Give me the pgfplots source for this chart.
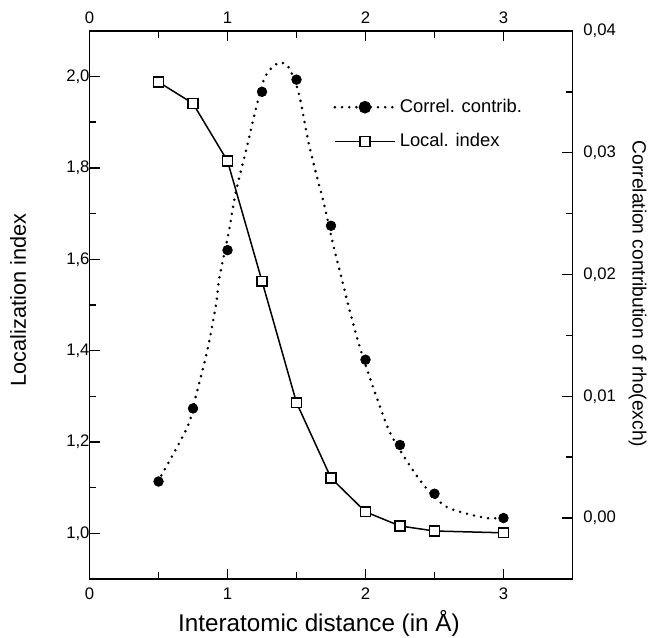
\documentclass[border=0pt]{standalone}
\usepackage{fontspec}
\setmainfont{Liberation Sans}
\usepackage{pgfplots}
\usepackage{pgfplotstable}
\pgfplotsset{compat=1.18}

% localization index (left axis)
\pgfplotstableread{
x     y
0.50  1.988
0.75  1.941
1.00  1.815
1.25  1.552
1.50  1.286
1.75  1.121
2.00  1.047
2.25  1.016
2.50  1.005
3.00  1.001
}\locidx

% correlation contribution, measured points (right axis)
\pgfplotstableread{
x     y
0.50  0.0030
0.75  0.0090
1.00  0.0220
1.25  0.0350
1.50  0.0360
1.75  0.0240
2.00  0.0130
2.25  0.0060
2.50  0.0020
3.00  0.0000
}\corrpts

% dotted fit curve
\pgfplotstableread{
x      y
0.52   0.0035
0.71   0.0075
0.77   0.0100
0.854  0.0138
0.919  0.0177
0.939  0.0196
1.011  0.0236
1.059  0.0267
1.143  0.0306
1.199  0.0333
1.264  0.0360
1.323  0.0370
1.384  0.0374
1.444  0.0370
1.516  0.0349
1.588  0.0308
1.660  0.0275
1.697  0.0259
1.769  0.0223
1.829  0.0196
1.877  0.0174
1.949  0.0144
2.020  0.0119
2.094  0.0095
2.178  0.0070
2.310  0.0045
2.430  0.0026
2.575  0.0010
2.720  0.0004
2.876  0.0000
2.950  0.0000
}\corrfit

\begin{document}
\begin{tikzpicture}
\pgfplotsset{
  common/.style={
    scale only axis, width=289pt, height=328pt,
    xmin=0, xmax=3.5,
    xtick={0,1,2,3}, minor xtick={0.5,1.5,2.5},
    major tick length=6pt, minor tick length=4pt,
    tick style={line width=0.9pt, black},
    axis line style={line width=1.1pt},
    tick label style={font=\fontsize{10}{12}\selectfont},
    /pgf/number format/assume math mode=true,
  },
  dotcurve/.style={line width=1.7pt, line cap=round, dash pattern=on 0pt off 4.3pt},
  sqstyle/.style={black, line width=0.9pt, mark=square*, mark size=2.9pt,
    mark options={fill=white, draw=black, line width=0.9pt}},
  longleg/.style={legend image code/.code={
    \draw[mark repeat=2, mark phase=2, ##1] plot coordinates {(0pt,0pt) (18pt,0pt) (36pt,0pt)};
  }},
}
\begin{axis}[common, name=ax,
    ymin=0.9, ymax=2.1,
    ytick={1,1.2,1.4,1.6,1.8,2},
    minor ytick={1.1,1.3,1.5,1.7,1.9},
    xtick pos=bottom, ytick pos=left,
    yticklabel style={xshift=3.5pt, /pgf/number format/.cd, fixed, fixed zerofill, precision=1, use comma},
    xticklabel style={yshift=-2pt},
    xlabel={Interatomic distance (in Å)},
    ylabel={Localization index},
    xlabel style={font=\fontsize{14.5}{17}\selectfont, at={(axis description cs:0.475,-0.0967)}, anchor=base},
    ylabel style={font=\fontsize{13}{15}\selectfont, at={(axis description cs:-0.119,0.509)}, anchor=south},
]
\addplot[sqstyle] table {\locidx};
\end{axis}

\begin{axis}[common,
    ymin=-0.005, ymax=0.04,
    ytick={0,0.01,0.02,0.03,0.04},
    minor ytick={0.005,0.015,0.025,0.035},
    scaled y ticks=false,
    xtick pos=top, xticklabel pos=top,
    xticklabel style={yshift=1pt},
    ytick pos=right, yticklabel pos=right,
    yticklabel style={xshift=3pt, /pgf/number format/.cd, fixed, fixed zerofill, precision=2, use comma},
    ylabel={Correlation contribution of rho(exch)},
    ylabel style={font=\fontsize{11.5}{14}\selectfont, at={(axis description cs:1.104,0.52)}, anchor=south, rotate=180},
    legend style={draw=none, fill=none, at={(axis description cs:0.494,0.888)},
        anchor=north west, row sep=7pt, font=\fontsize{11}{13}\selectfont},
    legend cell align=left,
]
\addlegendimage{black, dotcurve, mark=*, mark size=2.9pt, mark options={solid}, longleg}
\addlegendentry{Correl. contrib.}
\addlegendimage{sqstyle, longleg}
\addlegendentry{Local. index}
\addplot[black, dotcurve, smooth, forget plot] table {\corrfit};
\addplot[black, only marks, mark=*, mark size=2.9pt, forget plot] table {\corrpts};
\end{axis}
% page margins as in the reference
\pgfresetboundingbox
\path ([shift={(-53.6pt,-35pt)}]ax.south west) rectangle ([shift={(340.8pt,346.5pt)}]ax.south west);
\end{tikzpicture}
\end{document}
